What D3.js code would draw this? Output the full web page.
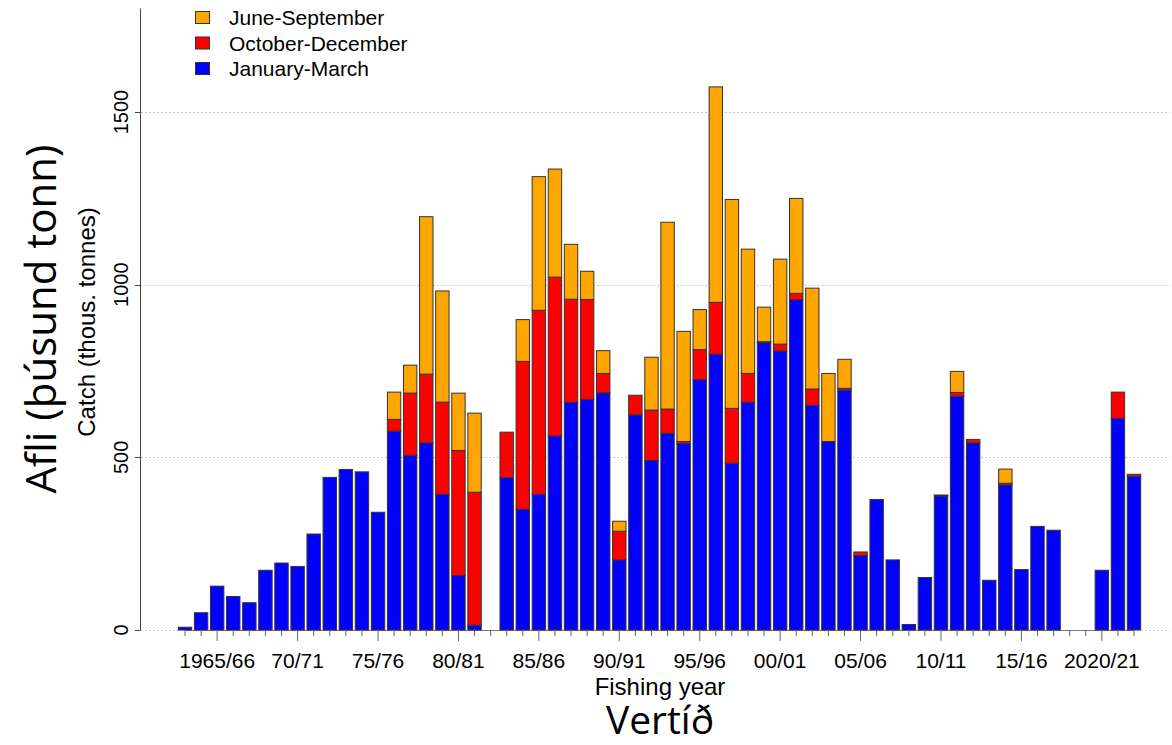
<!DOCTYPE html>
<html>
<head>
<meta charset="utf-8">
<script src="https://cdn.jsdelivr.net/npm/d3@7"></script>
<style>
  body { margin: 0; background: #fff; }
  svg { display: block; }
</style>
</head>
<body>
<svg id="chart"></svg>
<script>
// fishing years, one bar each
const seasons = [
  "1963/64","1964/65","1965/66","1966/67","1967/68","1968/69","1969/70","1970/71","1971/72","1972/73",
  "1973/74","1974/75","1975/76","1976/77","1977/78","1978/79","1979/80","1980/81","1981/82","1982/83",
  "1983/84","1984/85","1985/86","1986/87","1987/88","1988/89","1989/90","1990/91","1991/92","1992/93",
  "1993/94","1994/95","1995/96","1996/97","1997/98","1998/99","1999/00","2000/01","2001/02","2002/03",
  "2003/04","2004/05","2005/06","2006/07","2007/08","2008/09","2009/10","2010/11","2011/12","2012/13",
  "2013/14","2014/15","2015/16","2016/17","2017/18","2018/19","2019/20","2020/21","2021/22","2022/23"
]

// catch in thousand tonnes per period
const janMar = [
  8, 50, 127, 97, 79, 173, 194, 184, 278, 442,
  465, 458, 341, 576, 506, 542, 393, 158, 14, 0,
  441, 350, 393, 562, 659, 668, 687, 203, 623, 491,
  570, 541, 725, 799, 483, 660, 832, 808, 957, 651,
  546, 695, 216, 378, 203, 16, 152, 388, 677, 542,
  144, 420, 175, 300, 289, 0, 0, 173, 613, 445
]
const octDec = [
  0, 0, 0, 0, 0, 0, 0, 0, 0, 0,
  0, 0, 0, 34, 180, 199, 267, 362, 385, 0,
  132, 428, 533, 460, 299, 289, 56, 83, 57, 146,
  70, 5, 87, 150, 159, 83, 3, 20, 18, 47,
  0, 5, 10, 0, 0, 0, 0, 3, 11, 10,
  0, 5, 0, 0, 0, 0, 0, 0, 76, 6
]
const junSep = [
  0, 0, 0, 0, 0, 0, 0, 0, 0, 0,
  0, 0, 0, 79, 81, 456, 322, 166, 229, 0,
  0, 121, 387, 313, 159, 82, 66, 29, 0, 153,
  541, 319, 116, 624, 605, 360, 100, 246, 275, 292,
  197, 84, 0, 0, 0, 0, 0, 0, 61, 0,
  0, 41, 0, 0, 0, 0, 0, 0, 0, 0
]

const tickLabels = {
  "1965/66": "1965/66", "1970/71": "70/71", "1975/76": "75/76", "1980/81": "80/81",
  "1985/86": "85/86", "1990/91": "90/91", "1995/96": "95/96", "2000/01": "00/01",
  "2005/06": "05/06", "2010/11": "10/11", "2015/16": "15/16", "2020/21": "2020/21"
}
const yTicks = [0, 500, 1000, 1500]

const keys = ["janMar", "octDec", "junSep"]
const legendNames = {junSep: "June-September", octDec: "October-December", janMar: "January-March"}
const colors = {janMar: "#0000FF", octDec: "#FF0000", junSep: "#FFA500"}

const width = 1172
const height = 745
const sansFont = "'Liberation Sans', Arial, sans-serif"
const bigFont = "'Open Sans', 'Noto Sans', sans-serif"

var table = seasons.map(function(s, i) {
  return {season: s, janMar: janMar[i], octDec: octDec[i], junSep: junSep[i]}
})
var series = d3.stack().keys(keys)(table)

var svg = d3.select("#chart")
  .attr("width", width)
  .attr("height", height)

var step = 16.085
var x = d3.scaleBand()
  .domain(seasons)
  .range([185 - step / 2, 185 + (seasons.length - 0.5) * step])
  .paddingInner(1 / 6)
  .paddingOuter(1 / 12)

var y = d3.scaleLinear()
  .domain([0, 1800])
  .range([630, 8.5])

// dotted grid
svg.append("g")
  .selectAll("line")
  .data(yTicks)
  .enter()
  .append("line")
  .attr("x1", 141)
  .attr("x2", 1170)
  .attr("y1", d => Math.round(y(d)) + 0.5)
  .attr("y2", d => Math.round(y(d)) + 0.5)
  .style("stroke", "#c8c8c8")
  .style("stroke-dasharray", "2,2")

// x axis line between first and last bar
var xFirst = x(seasons[0]) + x.bandwidth() / 2
var xLast = x(seasons[seasons.length - 1]) + x.bandwidth() / 2
svg.append("line")
  .attr("x1", xFirst)
  .attr("x2", xLast)
  .attr("y1", 630.5)
  .attr("y2", 630.5)
  .style("stroke", "#777")

// bars
svg.append("g")
  .selectAll("g")
  .data(series)
  .enter()
  .append("g")
  .style("fill", d => colors[d.key])
  .selectAll("rect")
  .data(d => d.filter(p => p[1] - p[0] > 0))
  .enter()
  .append("rect")
  .attr("x", d => x(d.data.season))
  .attr("width", x.bandwidth())
  .attr("y", d => y(d[1]))
  .attr("height", d => y(d[0]) - y(d[1]))
  .style("stroke", "#333")
  .style("stroke-width", 1)

// x axis ticks and labels
var xAxis = d3.axisBottom(x)
  .tickSize(6)
  .tickFormat(d => tickLabels[d] || "")

var gx = svg.append("g")
  .attr("transform", "translate(0,630)")
  .call(xAxis)
gx.select(".domain").remove()
gx.selectAll(".tick line")
  .attr("y2", d => tickLabels[d] ? 11 : 6)
  .style("stroke", "#666")
gx.selectAll(".tick text")
  .attr("y", 38)
  .attr("dy", 0)
  .style("font-family", sansFont)
  .style("font-size", "21px")
  .style("fill", "#000")

// y axis
svg.append("line")
  .attr("x1", 140.5)
  .attr("x2", 140.5)
  .attr("y1", y(0))
  .attr("y2", y(1800))
  .style("stroke", "#444")

var gy = svg.append("g")
gy.selectAll("line")
  .data(yTicks)
  .enter()
  .append("line")
  .attr("x1", 135)
  .attr("x2", 140.5)
  .attr("y1", d => Math.round(y(d)) + 0.5)
  .attr("y2", d => Math.round(y(d)) + 0.5)
  .style("stroke", "#444")
gy.selectAll("text")
  .data(yTicks)
  .enter()
  .append("text")
  .attr("transform", d => "translate(128," + y(d) + ") rotate(-90)")
  .style("text-anchor", "middle")
  .style("font-family", sansFont)
  .style("font-size", "20px")
  .text(d => d)

// axis titles
svg.append("text")
  .attr("transform", "translate(56,319) rotate(-90)")
  .style("text-anchor", "middle")
  .style("font-family", bigFont)
  .style("font-size", "42px")
  .text("Afli (þúsund tonn)")

svg.append("text")
  .attr("transform", "translate(95,322) rotate(-90)")
  .style("text-anchor", "middle")
  .style("font-family", sansFont)
  .style("font-size", "24px")
  .text("Catch (thous. tonnes)")

svg.append("text")
  .attr("x", 660)
  .attr("y", 695)
  .style("text-anchor", "middle")
  .style("font-family", sansFont)
  .style("font-size", "24px")
  .text("Fishing year")

svg.append("text")
  .attr("x", 660)
  .attr("y", 734)
  .style("text-anchor", "middle")
  .style("font-family", bigFont)
  .style("font-size", "39px")
  .text("Vertíð")

// legend
var legend = svg.append("g")
  .selectAll("g")
  .data(["junSep", "octDec", "janMar"])
  .enter()
  .append("g")
  .attr("transform", (d, i) => "translate(0," + (17.5 + i * 25.5) + ")")

legend.append("rect")
  .attr("x", 195.5)
  .attr("y", -6)
  .attr("width", 14)
  .attr("height", 12)
  .style("fill", d => colors[d])
  .style("stroke", "#333")

legend.append("text")
  .attr("x", 229)
  .attr("y", 7.5)
  .style("font-family", sansFont)
  .style("font-size", "21px")
  .text(d => legendNames[d])
</script>
</body>
</html>
